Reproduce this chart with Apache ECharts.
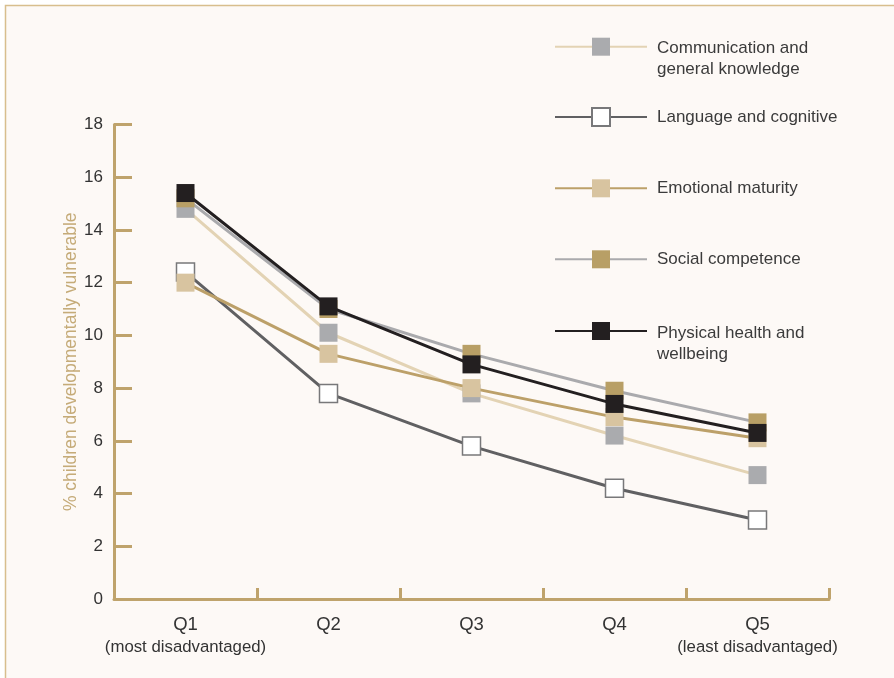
<!DOCTYPE html>
<html>
<head>
<meta charset="utf-8">
<script src="https://cdn.jsdelivr.net/npm/echarts@6/dist/echarts.min.js"></script>
<style>
  html, body { margin: 0; padding: 0; background: #ffffff; }
  #chart { width: 894px; height: 678px; }
</style>
</head>
<body>
<div id="chart"></div>
<script>
// Quintiles of disadvantage
const categories = ['Q1', 'Q2', 'Q3', 'Q4', 'Q5'];
const categorySubtitles = ['(most disadvantaged)', '', '', '', '(least disadvantaged)'];

// % of children developmentally vulnerable, by domain
const communication = [14.8, 10.1, 7.8, 6.2, 4.7];
const language = [12.4, 7.8, 5.8, 4.2, 3.0];
const emotional = [12.0, 9.3, 8.0, 6.9, 6.1];
const social = [15.2, 11.0, 9.3, 7.9, 6.7];
const physical = [15.4, 11.1, 8.9, 7.4, 6.3];

const yTicks = [0, 2, 4, 6, 8, 10, 12, 14, 16, 18];

const seriesNames = [
  'Communication and\ngeneral knowledge',
  'Language and cognitive',
  'Emotional maturity',
  'Social competence',
  'Physical health and\nwellbeing'
];
const seriesValues = [communication, language, emotional, social, physical];
const lineColors = ['#e3d3b4', '#606062', '#bca069', '#aaaaad', '#231f20'];
const markerFills = ['#aaabae', '#ffffff', '#d8c4a0', '#b89f66', '#231f20'];
const markerBorders = [null, '#78787a', null, null, null];

const FONT = '"Liberation Sans", Arial, Helvetica, sans-serif';
const GOLD = '#bfa36c';

const series = seriesNames.map((name, i) => ({
  name: name,
  type: 'line',
  data: seriesValues[i],
  symbol: 'rect',
  symbolSize: 18,
  showAllSymbol: true,
  lineStyle: { color: lineColors[i], width: 3 },
  itemStyle: {
    color: markerFills[i],
    borderColor: markerBorders[i] || markerFills[i],
    borderWidth: markerBorders[i] ? 1.5 : 0
  },
  emphasis: { disabled: true },
  z: 2 + i
}));

// one legend block per domain so each row sits at its own height;
// two-line labels get a blank lead line so their first line lines up with the marker
const legendRows = [13.2, 106.5, 177.8, 248.8, 297.5];
const legends = seriesNames.map((name, i) => {
  const twoLine = name.indexOf('\n') >= 0;
  return {
    data: [name],
    left: 554,
    top: legendRows[i],
    padding: 0,
    itemWidth: 92,
    itemHeight: 22.5,
    selectedMode: false,
    formatter: n => twoLine
      ? '{b| }\n' + n.split('\n').map(s => '{t|' + s + '}').join('\n')
      : n,
    textStyle: {
      fontFamily: FONT,
      fontSize: 17,
      color: '#3b3b3b',
      lineHeight: 21,
      padding: [0, 0, 0, 5],
      rich: {
        b: { fontFamily: FONT, fontSize: 17, lineHeight: 25 },
        t: { fontFamily: FONT, fontSize: 17, color: '#3b3b3b', lineHeight: 21 }
      }
    }
  };
});

const chart = echarts.init(document.getElementById('chart'), null, { renderer: 'canvas' });
chart.setOption({
  backgroundColor: '#ffffff',
  animation: false,
  graphic: [{
    type: 'rect',
    shape: { x: 5.5, y: 5.5, width: 900, height: 700 },
    style: { fill: '#fdf9f6', stroke: '#d8be8d', lineWidth: 1.5 },
    z: -10,
    silent: true
  }],
  legend: legends,
  grid: { left: 114, right: 65, top: 124.5, bottom: 79, containLabel: false },
  xAxis: {
    type: 'category',
    data: categories,
    boundaryGap: true,
    axisLine: { lineStyle: { color: GOLD, width: 3 } },
    axisTick: { show: true, inside: true, interval: 0, length: 11, lineStyle: { color: GOLD, width: 3 } },
    axisLabel: {
      interval: 0,
      hideOverlap: false,
      margin: 15,
      formatter: (v, idx) => categorySubtitles[idx] ? '{q|' + v + '}\n{s|' + categorySubtitles[idx] + '}' : '{q|' + v + '}',
      rich: {
        q: { fontFamily: FONT, fontSize: 18.5, color: '#333333', lineHeight: 22 },
        s: { fontFamily: FONT, fontSize: 16.8, color: '#333333', lineHeight: 22 }
      }
    }
  },
  yAxis: {
    type: 'value',
    min: 0,
    max: 18,
    interval: 2,
    name: '% children developmentally vulnerable',
    nameLocation: 'middle',
    nameGap: 34,
    nameMoveOverlap: false,
    nameTextStyle: { fontFamily: FONT, fontSize: 17.5, color: '#c5ab78' },
    axisLine: { show: true, lineStyle: { color: GOLD, width: 3 } },
    axisTick: { show: true, inside: true, length: 18, lineStyle: { color: GOLD, width: 3 } },
    axisLabel: {
      margin: 11,
      fontFamily: FONT,
      fontSize: 17,
      color: '#333333',
      formatter: v => yTicks.indexOf(v) >= 0 ? String(v) : ''
    },
    splitLine: { show: false }
  },
  series: series
});
</script>
</body>
</html>
